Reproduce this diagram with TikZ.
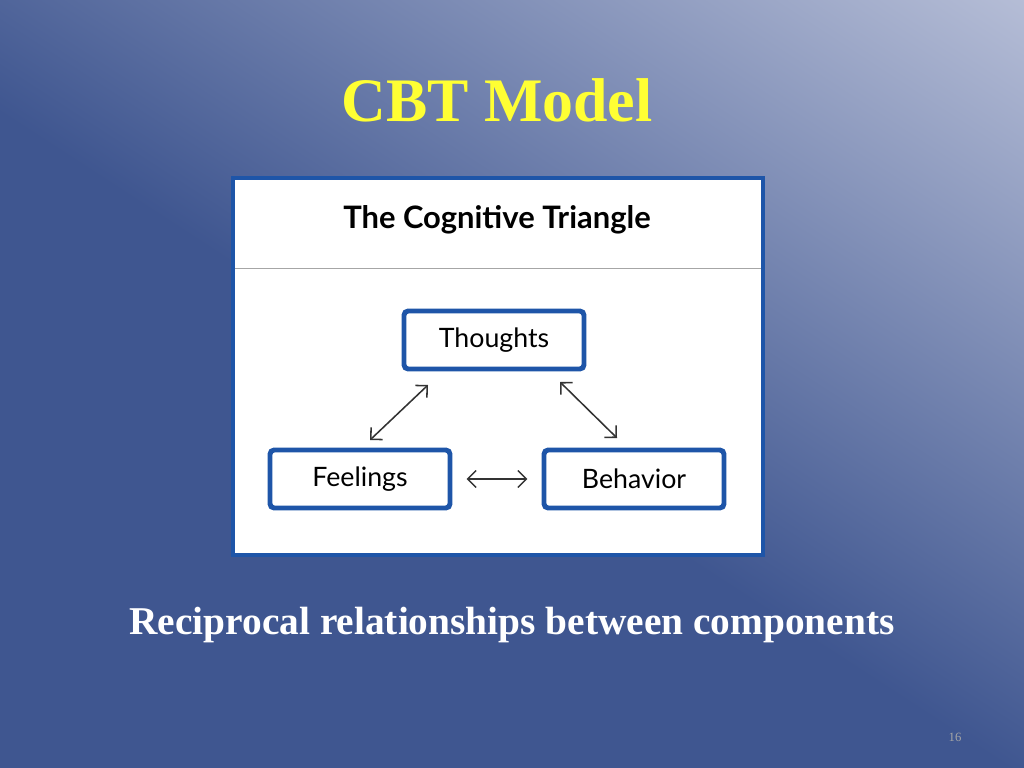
\documentclass[tikz,border=0pt]{standalone}
\usepackage{fontspec}
\setmainfont{Liberation Serif}
\newfontfamily\panelfont{Lato}
\usetikzlibrary{positioning,arrows.meta,shadows}
\definecolor{slideDark}{HTML}{3F5690}
\definecolor{slideLight}{HTML}{E4E6F2}
\definecolor{boxBlue}{HTML}{1E55A8}
\definecolor{titleYellow}{HTML}{FFFF33}
\pgfdeclarehorizontalshading{slideshade}{100bp}{color(0bp)=(slideDark); color(47bp)=(slideDark); color(100bp)=(slideLight)}
\tikzset{
  corner/.style={draw=boxBlue,line width=3.5pt,rounded corners=3pt,fill=white,
    minimum width=4.5cm,minimum height=1.45cm,font=\panelfont\fontsize{19}{19}\selectfont,
    drop shadow={opacity=.25,shadow xshift=1pt,shadow yshift=-1pt}},
  link/.style={{Straight Barb[length=6pt,width=12pt]}-{Straight Barb[length=6pt,width=12pt]},line width=1.1pt,black!80}
}
\begin{document}
\begin{tikzpicture}[x=0.025cm,y=-0.025cm]
\useasboundingbox (0,0) rectangle (1024,768);
% background
\shade[shading=slideshade,shading angle=57] (0,0) rectangle (1024,768);
\node[text=titleYellow,font=\bfseries\fontsize{44}{44}\selectfont] (title) at (497,100) {CBT Model};
% panel
\draw[boxBlue,line width=2.5pt,fill=white] (233,178) rectangle (763,555);
\draw[black!35,line width=.6pt] (235,268) -- (761,268);
\node[font=\panelfont\bfseries\fontsize{22}{22}\selectfont] (head) at (497,220) {The Cognitive Triangle};
\node[corner] (thoughts) at (494,340) {Thoughts};
\node[corner] (feelings) at (360,479) {Feelings};
\node[corner] (behavior) at (634,479) {Behavior};
\coordinate (a1) at (370,440); \coordinate (a2) at (428,385);
\coordinate (b1) at (560,382); \coordinate (b2) at (617,438);
\draw[link] (a1) -- (a2);
\draw[link] (b1) -- (b2);
\draw[link] ([xshift=10]feelings.east) -- ([xshift=-10]behavior.west);
\node[text=white,font=\bfseries\fontsize{28}{28}\selectfont] (sub) at (512,625) {Reciprocal relationships between components};
\node[text=black!35,font=\fontsize{9}{9}\selectfont] (page) at (955,737) {16};
\end{tikzpicture}
\end{document}
